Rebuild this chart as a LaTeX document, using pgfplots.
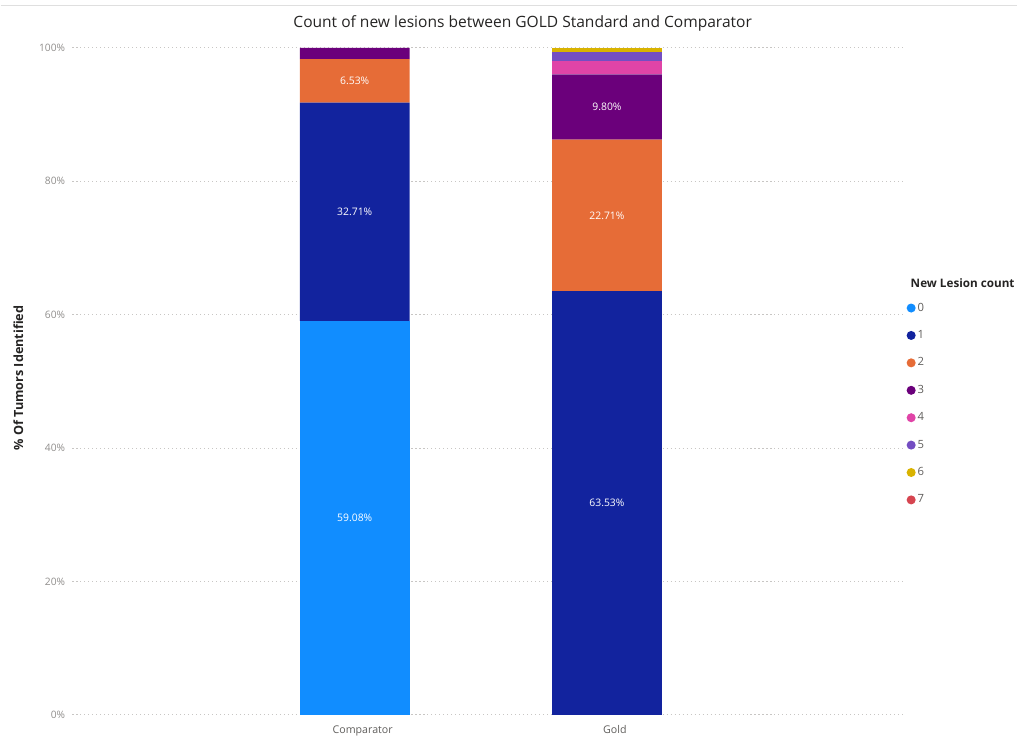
\documentclass[border=0pt]{standalone}
\usepackage{pgfplots}
\pgfplotsset{compat=1.18}
\usepackage{pgfplotstable}
\usepackage{fontspec}
\setmainfont{Open Sans}
\definecolor{c0}{HTML}{118DFF}
\definecolor{c1}{HTML}{12239E}
\definecolor{c2}{HTML}{E66C37}
\definecolor{c3}{HTML}{6B007B}
\definecolor{c4}{HTML}{E044A7}
\definecolor{c5}{HTML}{744EC2}
\definecolor{c6}{HTML}{D9B300}
\definecolor{c7}{HTML}{D64550}
\definecolor{titlec}{HTML}{252423}
\definecolor{tickc}{HTML}{8F8D8B}
\definecolor{legc}{HTML}{605E5C}
\definecolor{gridc}{HTML}{C8C6C4}

\pgfplotstableread{
x c0 c1 c2 c3 c4 c5 c6 c7
0 59.08 32.71 6.53 1.68 0 0 0 0
1 0 63.53 22.71 9.80 1.98 1.32 0.66 0
}\lesions

\pgfplotstableread{
x y val
0 29.54 59.08
0 75.435 32.71
0 95.055 6.53
1 31.765 63.53
1 74.885 22.71
1 91.14 9.80
}\labels

\begin{document}
\begin{tikzpicture}
\path (0,0) rectangle (764.25pt,552pt);
\draw[gray!25, line width=1pt] (0,548pt) -- (764.25pt,548pt);
\pgfplotsset{
  mybase/.style={
    at={(54pt,14.25pt)}, anchor=south west,
    scale only axis, width=624.75pt, height=501.75pt,
    xmin=-1.119, xmax=2.174, ymin=0, ymax=100,
  }
}
\begin{axis}[
  mybase,
  ybar stacked, bar width=82.5pt,
  axis line style={draw=none},
  major tick style={draw=none},
  xtick={0,1}, xticklabels={Comparator,Gold},
  xticklabel style={font=\fontsize{8}{9}\selectfont, text=legc, xshift=6pt, yshift=-4.5pt},
  ytick={0,20,40,60,80,100},
  yticklabels={0\%,20\%,40\%,60\%,80\%,100\%},
  yticklabel style={font=\fontsize{7.7}{9}\selectfont, text=tickc, xshift=-2pt},
  ymajorgrids,
  grid style={gridc, line width=0.8pt, dash pattern=on 0.8pt off 2.2pt},
  ylabel={\bfseries \% Of Tumors Identified},
  every axis y label/.style={at={(axis description cs:-0.065,0.505)}, rotate=90, anchor=center, font=\fontsize{9.5}{11}\selectfont, text=titlec},
  title={Count of new lesions between GOLD Standard and Comparator},
  title style={at={(axis description cs:0.542,1.025)}, anchor=center, font=\fontsize{11.7}{13}\selectfont, text=titlec},
  legend style={at={(axis description cs:1.004,0.622)}, anchor=north west, draw=none, fill=none,
     font=\fontsize{8.5}{10}\selectfont, text=legc, row sep=9.0pt, inner sep=0pt,
     nodes={inner xsep=1.5pt}},
  legend cell align=left,
  legend image code/.code={\fill[#1, draw=none] (3.4pt,0pt) circle (3.4pt);},
  clip=false,
]
\addplot[fill=c0, draw=none] table[x=x, y=c0] {\lesions}; \addlegendentry{0}
\addplot[fill=c1, draw=none] table[x=x, y=c1] {\lesions}; \addlegendentry{1}
\addplot[fill=c2, draw=none] table[x=x, y=c2] {\lesions}; \addlegendentry{2}
\addplot[fill=c3, draw=none] table[x=x, y=c3] {\lesions}; \addlegendentry{3}
\addplot[fill=c4, draw=none] table[x=x, y=c4] {\lesions}; \addlegendentry{4}
\addplot[fill=c5, draw=none] table[x=x, y=c5] {\lesions}; \addlegendentry{5}
\addplot[fill=c6, draw=none] table[x=x, y=c6] {\lesions}; \addlegendentry{6}
\addplot[fill=c7, draw=none] table[x=x, y=c7] {\lesions}; \addlegendentry{7}
\node[anchor=west, font=\bfseries\fontsize{8.8}{10}\selectfont, text=titlec] at (axis description cs:1.0036,0.647) {New Lesion count};
\end{axis}
\begin{axis}[
  mybase,
  hide axis,
  /pgf/number format/assume math mode=true,
  nodes near coords={\pgfmathprintnumber[fixed,fixed zerofill,precision=2]{\pgfplotspointmeta}\%},
  every node near coord/.append style={anchor=center, text=white, font=\fontsize{7.8}{9}\selectfont},
  point meta=explicit,
]
\addplot[draw=none, mark=none] table[x=x, y=y, meta=val] {\labels};
\end{axis}
\end{tikzpicture}
\end{document}
